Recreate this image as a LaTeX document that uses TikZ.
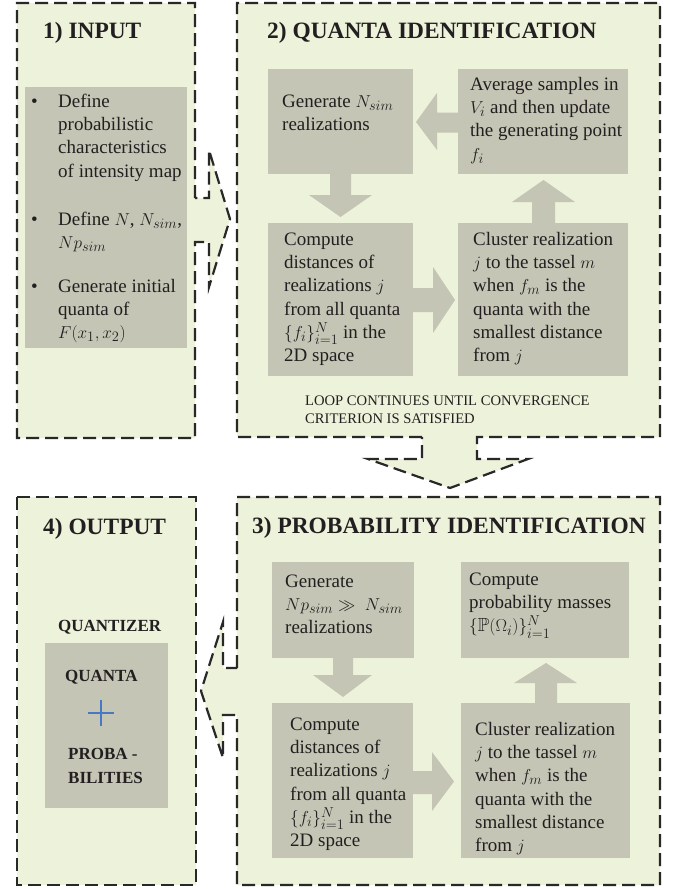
\documentclass[tikz,border=0pt]{standalone}
\usepackage{amssymb}
\usepackage{fontspec}
\setmainfont{Liberation Serif}
\definecolor{lgreen}{RGB}{237,242,218}
\definecolor{gboxc}{RGB}{196,197,181}
\definecolor{edgec}{RGB}{40,40,40}
\definecolor{txtc}{RGB}{35,31,32}
\definecolor{plusc}{RGB}{70,120,195}
\newcommand\lowN{\raisebox{-2.2pt}{$\scriptstyle N$}}
\tikzset{
  panel/.style={draw=edgec, line width=2.2pt, dash pattern=on 13pt off 6pt, fill=lgreen, line join=miter},
  gbox/.style={fill=gboxc, draw=none, inner sep=0pt, anchor=north west},
  garrow/.style={fill=gboxc, draw=none},
  body/.style={font=\fontsize{19}{23.3}\selectfont, inner sep=0pt, anchor=base west, text=txtc},
  ttl/.style={font=\fontsize{23.4}{28}\selectfont\bfseries, inner sep=0pt, anchor=base west, text=txtc},
  small/.style={font=\fontsize{14.6}{18}\selectfont, inner sep=0pt, anchor=base west, text=txtc},
  outb/.style={font=\fontsize{17}{20}\selectfont\bfseries, inner sep=0pt, anchor=base west, text=txtc},
}
\begin{document}
\begin{tikzpicture}[x=1pt,y=-1pt]
\useasboundingbox[fill=white] (0,0) rectangle (680,889);

% ---------- panels ----------
% 1) input with right arrow
\draw[panel] (195,198) -- (195,3) -- (17,3) -- (17,438) -- (195,438) -- (195,242)
  -- (209,242) -- (209,287) -- (230,219) -- (209,150) -- (209,198) -- cycle;
% 2) quanta identification with down arrow
\draw[panel] (422,437) -- (237,437) -- (237,3) -- (660,3) -- (660,437) -- (477,437)
  -- (477,459) -- (528,459) -- (450,488) -- (368,459) -- (422,459) -- cycle;
% 3) probability identification with left arrow
\draw[panel] (237,668) -- (237,497) -- (660,497) -- (660,885) -- (237,885) -- (237,715)
  -- (223,715) -- (223,758) -- (201,691) -- (223,622) -- (223,668) -- cycle;
% 4) output
\draw[panel] (17,497) rectangle (196,885);

% ---------- titles ----------
\node[ttl] (t1) at (43,38) {1) INPUT};
\node[ttl] (t2) at (267,38) {2) QUANTA IDENTIFICATION};
\node[ttl] (t3) at (252,533) {3) PROBABILITY IDENTIFICATION};
\node[ttl] (t4) at (43,534) {4) OUTPUT};

% ---------- panel 1 ----------
\node[gbox, minimum width=162, minimum height=261] (g1) at (25,87) {};
\node[body] (bu1) at (31,107) {•};
\node[body] (bu2) at (31,225) {•};
\node[body] (bu3) at (31,292) {•};
\node[body] (i1) at (58,107) {Define};
\node[body] (i2) at (58,130.3) {probabilistic};
\node[body] (i3) at (58,153.6) {characteristics};
\node[body] (i4) at (58,177) {of intensity map};
\node[body] (i5) at (58,225) {Define $N$, $N_{sim}$,};
\node[body] (i6) at (58,248.3) {$Np_{sim}$};
\node[body] (i7) at (58,292) {Generate initial};
\node[body] (i8) at (58,315.3) {quanta of};
\node[body] (i9) at (58,338.6) {$F(x_1,x_2)$};

% ---------- panel 2 ----------
\node[gbox, minimum width=145, minimum height=105] (q1) at (268,69) {};
\node[gbox, minimum width=170, minimum height=105] (q2) at (458,69) {};
\node[gbox, minimum width=145, minimum height=153] (q3) at (268,223) {};
\node[gbox, minimum width=170, minimum height=153] (q4) at (458,223) {};
% arrows
\fill[garrow] (458,112.5) -- (437,112.5) -- (437,93) -- (416,122) -- (437,150) -- (437,132.5) -- (458,132.5) -- cycle;
\fill[garrow] (330,174) -- (330,195) -- (309,195) -- (340.5,217) -- (372,195) -- (351,195) -- (351,174) -- cycle;
\fill[garrow] (413,288) -- (433,288) -- (433,267) -- (455,300) -- (433,333) -- (433,312) -- (413,312) -- cycle;
\fill[garrow] (532,223) -- (532,202) -- (512,202) -- (543.5,180) -- (575,202) -- (555,202) -- (555,223) -- cycle;
% texts
\node[body] (q1a) at (282,107) {Generate $N_{sim}$};
\node[body] (q1b) at (282,130.3) {realizations};
\node[body] (q2a) at (470,90) {Average samples in};
\node[body] (q2b) at (470,113.3) {$V_i$ and then update};
\node[body] (q2c) at (470,136.6) {the generating point};
\node[body] (q2d) at (470,160) {$f_i$};
\node[body] (q3a) at (284,245) {Compute};
\node[body] (q3b) at (284,268.3) {distances of};
\node[body] (q3c) at (284,291.6) {realizations $j$};
\node[body] (q3d) at (284,315) {from all quanta};
\node[body] (q3e) at (284,338.3) {$\{f_i\}_{i=1}^{\lowN}$ in the};
\node[body] (q3f) at (284,361.6) {2D space};
\node[body] (q4a) at (473,245) {Cluster realization};
\node[body] (q4b) at (473,268.3) {$j$ to the tassel $m$};
\node[body] (q4c) at (473,291.6) {when $f_m$ is the};
\node[body] (q4d) at (473,315) {quanta with the};
\node[body] (q4e) at (473,338.3) {smallest distance};
\node[body] (q4f) at (473,361.6) {from $j$};
\node[small] (loop1) at (305,405) {LOOP CONTINUES UNTIL CONVERGENCE};
\node[small] (loop2) at (305,423) {CRITERION IS SATISFIED};

% ---------- panel 3 ----------
\node[gbox, minimum width=142, minimum height=96] (p1) at (272,562) {};
\node[gbox, minimum width=168, minimum height=96] (p2) at (461,562) {};
\node[gbox, minimum width=141, minimum height=155] (p3) at (272,703) {};
\node[gbox, minimum width=169, minimum height=155] (p4) at (461,703) {};
\fill[garrow] (333,658) -- (333,675) -- (313,675) -- (343,697) -- (372,675) -- (353,675) -- (353,658) -- cycle;
\fill[garrow] (535,703) -- (535,683) -- (514,683) -- (546,663) -- (577,683) -- (557,683) -- (557,703) -- cycle;
\fill[garrow] (413,771) -- (432,771) -- (432,752) -- (454,781.5) -- (432,811) -- (432,794) -- (413,794) -- cycle;
\node[body] (p1a) at (285,587) {Generate};
\node[body] (p1b) at (285,610.3) {$Np_{sim} \gg\ N_{sim}$};
\node[body] (p1c) at (285,633.6) {realizations};
\node[body] (p2a) at (469,585) {Compute};
\node[body] (p2b) at (469,608.3) {probability masses};
\node[body] (p2c) at (469,631.6) {$\{\mathbb{P}(\Omega_i)\}_{i=1}^{\lowN}$};
\node[body] (p3a) at (290,730) {Compute};
\node[body] (p3b) at (290,753.3) {distances of};
\node[body] (p3c) at (290,776.6) {realizations $j$};
\node[body] (p3d) at (290,800) {from all quanta};
\node[body] (p3e) at (290,823.3) {$\{f_i\}_{i=1}^{\lowN}$ in the};
\node[body] (p3f) at (290,846.6) {2D space};
\node[body] (p4a) at (475,735) {Cluster realization};
\node[body] (p4b) at (475,758.3) {$j$ to the tassel $m$};
\node[body] (p4c) at (475,781.6) {when $f_m$ is the};
\node[body] (p4d) at (475,805) {quanta with the};
\node[body] (p4e) at (475,828.3) {smallest distance};
\node[body] (p4f) at (475,851.6) {from $j$};

% ---------- panel 4 ----------
\node[outb] (o0) at (58,631) {QUANTIZER};
\node[gbox, minimum width=123, minimum height=165] (g4) at (45,643) {};
\node[outb] (o1) at (65,681) {QUANTA};
\coordinate (plusc0) at (101,713);
\draw[plusc, line width=2.8pt] ([xshift=-13pt]plusc0) -- ([xshift=13pt]plusc0)
  ([yshift=-13pt]plusc0) -- ([yshift=13pt]plusc0);
\node[outb] (o2) at (68,759) {PROBA -};
\node[outb] (o3) at (68,783) {BILITIES};
\end{tikzpicture}
\end{document}
